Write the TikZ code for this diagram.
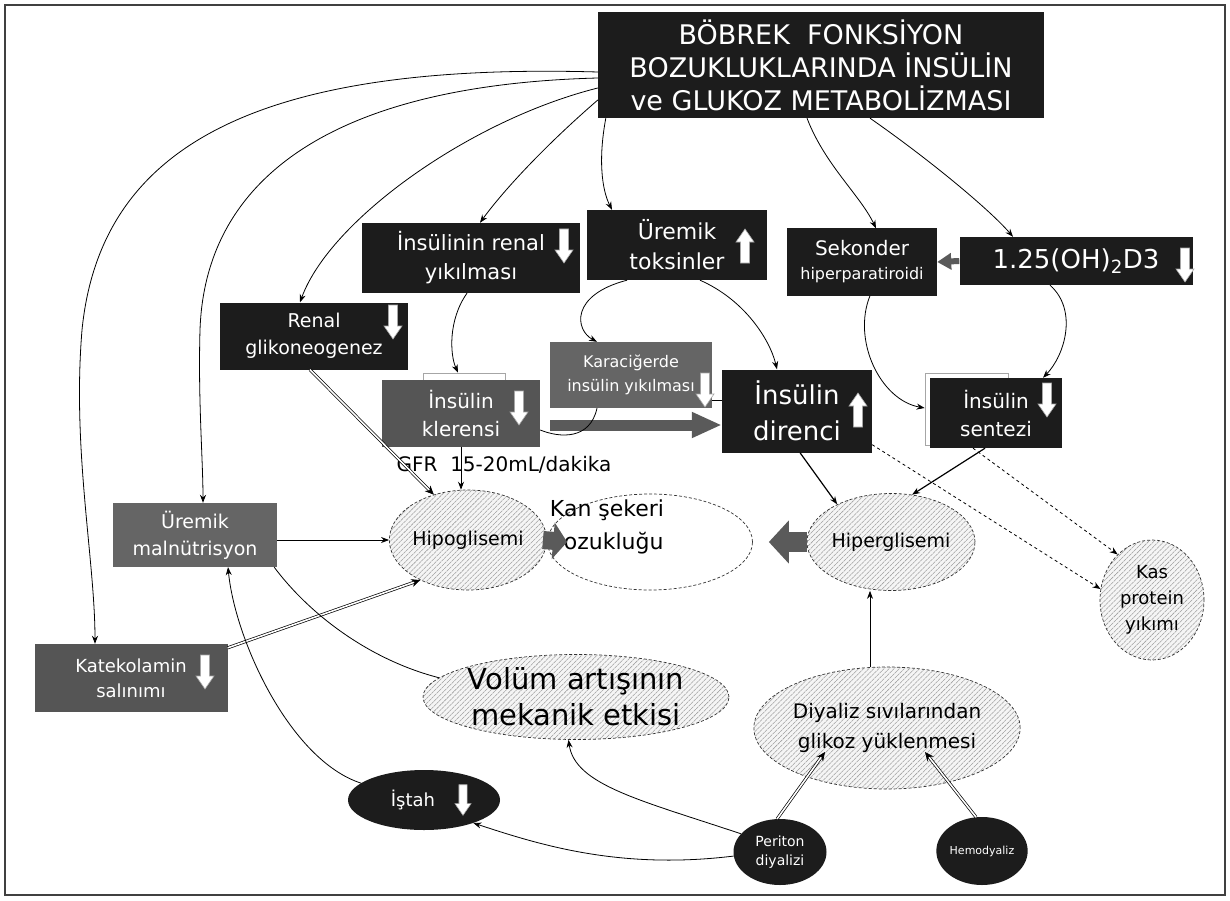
\documentclass[tikz,border=0pt]{standalone}
\usepackage{fontspec}
\setmainfont{DejaVu Sans}
\usetikzlibrary{shapes.geometric,arrows.meta,patterns.meta,calc}
\definecolor{boxblack}{HTML}{1C1C1C}
\definecolor{boxgray}{HTML}{555555}
\definecolor{boxgrayb}{HTML}{656565}
\definecolor{thickgray}{HTML}{5A5A5A}
\newcommand{\fsz}[2]{\fontsize{#1}{#2}\selectfont}
\tikzset{
  bx/.style={rectangle, inner sep=0pt, draw=none, text=white, align=center},
  hatch/.style={ellipse, inner sep=0pt, draw=black!80, densely dashed, line width=0.7pt,
    preaction={fill=gray!8}, pattern={Lines[angle=45,distance=3.6pt,line width=0.55pt]}, pattern color=gray!75, align=center},
  blk/.style={ellipse, inner sep=0pt, fill=boxblack, draw=none, text=white, align=center},
  conn/.style={line width=0.8pt, -{Stealth[length=8pt,width=6pt]}},
  pl/.style={line width=0.8pt},
  dbl/.style={double, double distance=1.6pt, line width=0.7pt, -{Stealth[length=9pt,width=8pt]}},
  dashconn/.style={dashed, line width=0.8pt, -{Stealth[length=8pt,width=6pt]}},
  dnarr/.pic={\draw[draw=gray!70, fill=white, line width=0.6pt]
     (-4.5,-17) -- (4.5,-17) -- (4.5,4) -- (9,4) -- (0,17) -- (-9,4) -- (-4.5,4) -- cycle;},
  uparr/.pic={\draw[draw=gray!70, fill=white, line width=0.6pt]
     (-4.5,17) -- (4.5,17) -- (4.5,-4) -- (9,-4) -- (0,-17) -- (-9,-4) -- (-4.5,-4) -- cycle;}
}
\begin{document}
\begin{tikzpicture}[x=1pt,y=-1pt]
\useasboundingbox (0,0) rectangle (1230,901);
\draw[line width=1.2pt, black!75] (5,5) rectangle (1225,895);

% ---- boxes ----
\node[bx, fill=boxblack, minimum width=446pt, minimum height=106pt, font={\fsz{27}{33}}] (title) at (821,65)
  {BÖBREK\ \ FONKSİYON\\BOZUKLUKLARINDA İNSÜLİN\\ve GLUKOZ METABOLİZMASI};
\node[bx, fill=boxblack, minimum width=218pt, minimum height=70pt, font={\fsz{21}{29}}] (renal) at (471,258)
  {İnsülinin renal\\yıkılması};
\node[bx, fill=boxblack, minimum width=180pt, minimum height=70pt, font={\fsz{22}{30}}] (tok) at (677,245)
  {Üremik\\toksinler};
\node[bx, fill=boxblack, minimum width=150pt, minimum height=67pt, font={\fsz{16}{24}}] (sek) at (862,262)
  {{\fsz{20}{24}Sekonder}\\hiperparatiroidi};
\node[bx, fill=boxblack, minimum width=233pt, minimum height=48pt, font={\fsz{26}{30}}] (d3) at (1076,261)
  {1.25(OH)\textsubscript{2}D3};
\node[bx, fill=boxblack, minimum width=188pt, minimum height=67pt, font={\fsz{19}{27}}] (glik) at (314,336)
  {Renal\\glikoneogenez};
\node[rectangle, draw=gray!70, fill=white, line width=0.8pt, minimum width=82pt, minimum height=40pt] (klerbk) at (464,393) {};
\node[bx, fill=boxgray, minimum width=158pt, minimum height=67pt, font={\fsz{20}{28}}] (kler) at (461,413)
  {İnsülin\\klerensi};
\node[bx, fill=boxgrayb, minimum width=162pt, minimum height=66pt, font={\fsz{16}{24}}] (kc) at (631,375)
  {Karaciğerde\\insülin yıkılması};
\node[bx, fill=boxblack, minimum width=150pt, minimum height=83pt, font={\fsz{26}{36}}] (dir) at (797,411)
  {İnsülin\\direnci};
\node[rectangle, draw=gray!70, fill=white, line width=0.8pt, minimum width=83pt, minimum height=72pt] (senbk) at (966.5,409) {};
\node[bx, fill=boxblack, minimum width=132pt, minimum height=70pt, font={\fsz{20}{28}}] (sen) at (996,413)
  {İnsülin\\sentezi};
\node[bx, fill=boxgrayb, minimum width=164pt, minimum height=64pt, font={\fsz{19}{27}}] (mal) at (195,535)
  {Üremik\\malnütrisyon};
\node[bx, fill=boxgray, minimum width=193pt, minimum height=68pt, font={\fsz{18}{25}}] (kat) at (131,678)
  {Katekolamin\\salınımı};

\node[font={\fsz{20}{24}}, inner sep=0pt] (gfr) at (504,465) {GFR\ \ 15-20mL/dakika};

% ---- ellipses ----
\node[hatch, minimum width=126pt, minimum height=100pt, font={\fsz{19}{24}}] (hipo) at (468,540) {Hipoglisemi};
\node[ellipse, draw=black!80, densely dashed, line width=0.7pt, fill=white, minimum width=205pt, minimum height=96pt] (kan) at (650,542) {};
\node[inner sep=0pt, align=left, font={\fsz{22}{33}}] (kant) at (607,527) {Kan şekeri\\bozukluğu};
\node[hatch, minimum width=142pt, minimum height=97pt, font={\fsz{19}{24}}] (hiper) at (891,542) {Hiperglisemi};
\node[hatch, minimum width=104pt, minimum height=120pt, font={\fsz{18}{26}}] (kas) at (1152,600) {Kas\\protein\\yıkımı};
\node[hatch, minimum width=296pt, minimum height=85pt, font={\fsz{29}{36}}] (vol) at (576,697) {Volüm artışının\\mekanik etkisi};
\node[hatch, minimum width=220pt, minimum height=122pt, font={\fsz{20}{30}}] (diy) at (887,728) {Diyaliz sıvılarından\\glikoz yüklenmesi};
\node[blk, minimum width=152pt, minimum height=60pt, font={\fsz{18}{22}}] (istah) at (424,800) {İştah\hspace*{22pt}};
\node[blk, minimum width=93pt, minimum height=66pt, font={\fsz{14}{19}}] (per) at (780,852) {Periton\\diyalizi};
\node[blk, minimum width=90pt, minimum height=68pt, font={\fsz{11}{14}}] (hemo) at (982,851) {Hemodyaliz};

% ---- arrow icons ----
\pic at (564,246) {dnarr};
\pic at (745,246) {uparr};
\pic at (1185,265) {dnarr};
\pic at (393,322) {dnarr};
\pic at (519,408) {dnarr};
\pic at (705,390) {dnarr};
\pic at (858,410) {uparr};
\pic at (1047,400) {dnarr};
\pic at (205,672) {dnarr};
\pic[scale=0.9] at (463,800) {dnarr};

% ---- connectors from the title ----
\draw[conn] ($(title.west)+(0,7)$) .. controls (250,62) and (100,150) .. (82,330)
   .. controls (72,450) and (95,560) .. ($(kat.north)+(-36,0)$);
\draw[conn] ($(title.west)+(0,13)$) .. controls (330,85) and (205,180) .. (200,330)
   .. controls (198,400) and (203,460) .. ($(mal.north)+(8,0)$);
\draw[conn] ($(title.west)+(0,23)$) .. controls (470,120) and (330,220) .. ($(glik.north)+(-14,0)$);
\draw[conn] ($(title.west)+(0,35)$) .. controls (540,150) and (500,195) .. ($(renal.north)+(9,0)$);
\draw[conn] ($(title.south west)+(8,0)$) .. controls (598,160) and (602,190) .. ($(tok.north)+(-65,0)$);
\draw[conn] ($(title.south)+(-14,0)$) .. controls (825,165) and (860,195) .. ($(sek.north)+(14,0)$);
\draw[conn] ($(title.south)+(49,0)$) .. controls (930,160) and (990,210) .. ($(d3.north)+(-63,0)$);

% ---- middle connectors ----
\draw[conn] ($(tok.south)+(-50,0)$) .. controls (570,295) and (575,330) .. ($(kc.north)+(-34,0)$);
\draw[conn] ($(tok.south)+(23,0)$) .. controls (745,300) and (770,340) .. ($(dir.north)+(-20,0)$);
\draw[conn] ($(renal.south)+(-4,0)$) .. controls (448,320) and (450,355) .. ($(klerbk.north)+(-6,0)$);
\draw[dbl] ($(glik.south)+(-4,0)$) -- (hipo.127);
\draw[conn] (kler.south) -- (kler.south |- hipo.north);
\draw[thickgray, line width=11pt, -{Triangle[length=30pt,width=24pt]}] ($(kler.east)+(10,12)$) -- ($(dir.west)+(0,14)$);
\draw[pl] ($(kc.south)+(-34,0)$) .. controls (590,440) and (560,438) .. ($(kler.east)+(0,17)$);
\draw[pl] ($(kc.east)+(0,25)$) -- ($(dir.west)+(0,-11)$);
\draw[thickgray, line width=6pt, -{Triangle[length=14pt,width=16pt]}] (d3.west) -- (sek.east);
\draw[conn] ($(sek.south)+(8,0)$) .. controls (852,340) and (880,400) .. ($(senbk.west)+(0,-1)$);
\draw[conn] ($(d3.south)+(-26,0)$) .. controls (1078,310) and (1065,355) .. ($(sen.north)+(47,0)$);
\draw[conn, line width=1.2pt] ($(dir.south)+(3,0)$) -- (hiper.145);
\draw[conn, line width=1.2pt] ($(sen.south)+(-11,0)$) -- (hiper.66);
\draw[dashconn] ($(dir.south east)+(0,-8)$) -- (kas.168);
\draw[dashconn] ($(sen.south)+(-23,0)$) -- (kas.127);

% ---- lower connectors ----
\draw[conn] ($(mal.east)+(0,5)$) -- (hipo.west);
\draw[dbl] ($(kat.north east)+(0,4)$) -- (hipo.220);
\draw[pl] ($(mal.south east)+(-3,0)$) .. controls (310,615) and (370,660) .. (vol.172);
\draw[conn] (istah.165) .. controls (290,760) and (235,640) .. ($(mal.south)+(33,0)$);
\draw[conn] (per.185) .. controls (620,870) and (540,845) .. (istah.-25);
\draw[conn] (per.155) .. controls (640,800) and (575,785) .. (vol.260);
\draw[dbl] (per.95) -- ($(diy.center)+(-62,24)$);
\draw[dbl] (hemo.100) -- ($(diy.center)+(38,24)$);
\draw[conn] ($(diy.north)+(-17,0)$) -- ($(hiper.south)+(-21,0)$);

% ---- thick gray arrows into Kan sekeri ----
\draw[thickgray, line width=18pt, -{Triangle[length=14pt,width=36pt]}] ($(hipo.east)+(-4,0)$) -- ($(kan.west)+(20,0)$);
\draw[thickgray, line width=20pt, -{Triangle[length=20pt,width=42pt]}] (hiper.west) -- ($(kan.east)+(16,0)$);
\end{tikzpicture}
\end{document}
